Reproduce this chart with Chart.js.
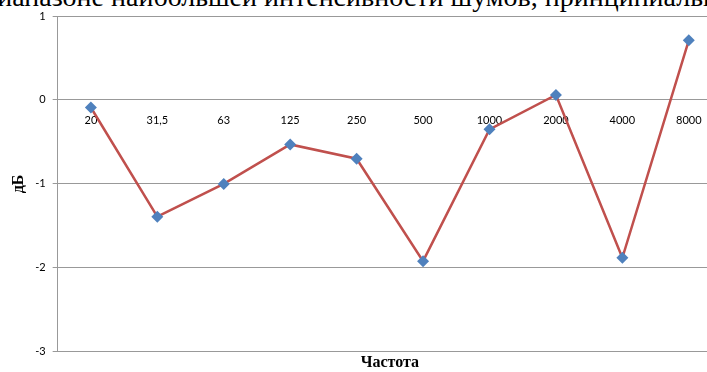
<!DOCTYPE html>
<html>
<head>
<meta charset="utf-8">
<script src="https://cdn.jsdelivr.net/npm/chart.js@4"></script>
<style>
  html, body { margin: 0; padding: 0; background: #fff; overflow: hidden; }
  body { width: 707px; height: 372px; position: relative; }
  .top-text {
    position: absolute; left: -17px; top: -19px; white-space: nowrap;
    font-family: "Liberation Serif", serif; font-size: 28px; line-height: 32px; color: #000;
  }
  .wrap { position: absolute; left: 0; top: 0; width: 728px; height: 372px; }
</style>
</head>
<body>
<div class="top-text">диапазоне наибольшей интенсивности шумов, принципиально</div>
<div class="wrap"><canvas id="chart"></canvas></div>
<script>
// Frequencies (categories) and level deviation, dB
const freqs = ["20", "31,5", "63", "125", "250", "500", "1000", "2000", "4000", "8000"];
const levels = [-0.09, -1.39, -1.0, -0.53, -0.70, -1.92, -0.35, 0.06, -1.88, 0.71];

const ctx = document.getElementById("chart");

new Chart(ctx, {
  type: "line",
  data: {
    labels: freqs,
    datasets: [
      {
        label: "дБ",
        data: levels,
        borderColor: "#C0504D",
        borderWidth: 2.5,
        pointStyle: "rectRot",
        pointRadius: 6,
        pointHoverRadius: 6,
        pointBackgroundColor: "#4F81BD",
        pointBorderColor: "#4F81BD",
        pointBorderWidth: 0,
        tension: 0,
      },
    ],
  },
  options: {
    responsive: true,
    maintainAspectRatio: false,
    animation: false,
    layout: { padding: { top: 16, left: 0, right: 0, bottom: 0 } },
    plugins: {
      legend: { display: false },
      tooltip: { enabled: false },
    },
    scales: {
      x: {
        type: "category",
        offset: true,
        position: { y: 0 },
        grid: { display: false },
        border: { display: false },
        ticks: {
          padding: 6,
          maxRotation: 0,
          autoSkip: false,
          color: "#000",
          font: { family: "Lato", size: 11 },
        },
      },
      x2: {
        type: "category",
        position: "bottom",
        offset: true,
        grid: { display: false, drawTicks: false },
        border: { display: false },
        ticks: { display: false },
        title: {
          display: true,
          text: "Частота",
          color: "#000",
          padding: { top: 1, bottom: 0 },
          font: { family: "Liberation Serif", size: 16, weight: "bold" },
        },
      },
      y: {
        min: -3,
        max: 1,
        ticks: {
          stepSize: 1,
          padding: 7,
          color: "#000",
          font: { family: "Lato", size: 11 },
        },
        grid: { color: "#999", tickLength: 5, lineWidth: 1 },
        border: { color: "#999" },
        title: {
          display: true,
          text: "дБ",
          color: "#000",
          padding: { top: 9, bottom: 0 },
          font: { family: "Liberation Serif", size: 16, weight: "bold" },
        },
      },
    },
  },
});
</script>
</body>
</html>
